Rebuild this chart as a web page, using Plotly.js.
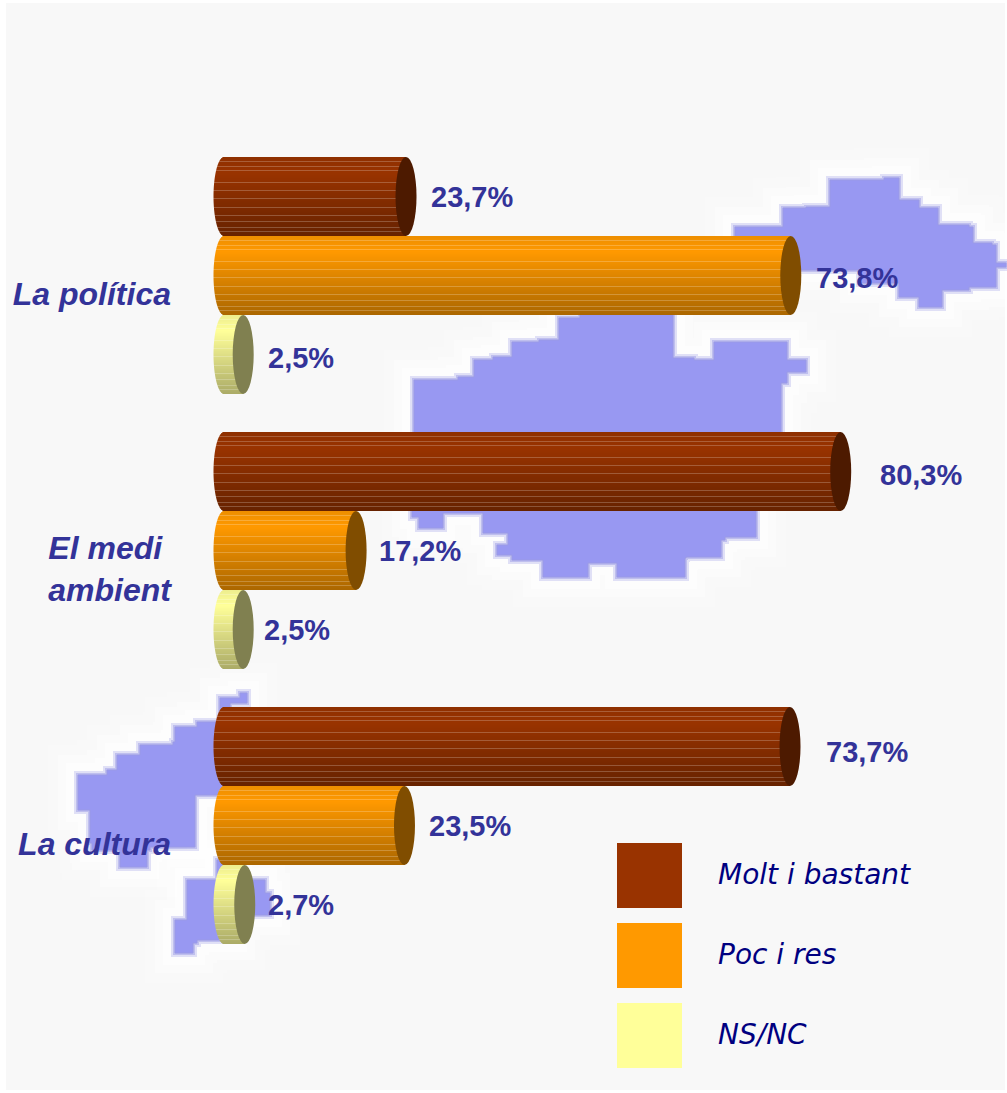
<!DOCTYPE html>
<html><head><meta charset="utf-8">
<script src="https://cdn.plot.ly/plotly-3.0.1.min.js"></script>
<style>html,body{margin:0;padding:0;background:#fff}</style></head>
<body><div id="chart" style="width:1007px;height:1093px"></div>
<script>
// ---- data
const categories = ['La política', 'El medi&nbsp;<br>ambient', 'La cultura'];
const seriesNames = ['Molt i bastant', 'Poc i res', 'NS/NC'];
const moltBastant = [23.7, 80.3, 73.7];
const pocRes = [73.8, 17.2, 23.5];
const nsNc = [2.5, 2.5, 2.7];

// ---- styles
const W = 1007, H = 1093, L = 172;
const faceColors = [[153,51,0],[255,153,0],[255,255,153]];
const capColors = ['#4d1a00','#804d00','#808050'];
const legendColors = ['#993300','#ff9900','#ffff99'];
const labelColor = '#333399', legendText = '#000080';
const labelNudgeX = [[23,37,34],[23,21,23],[23,19,21]];   // px, per series then category
const labelNudgeY = [[0,3,5],[2,0,0],[3,0,0]];
const stripeRows = [4,9,13,25,33,41,50,58,64,70,74];
const values = [moltBastant, pocRes, nsNc];
const pxPerUnit = 7.68, zeroPx = 224, capRx = 10.5/pxPerUnit;
const catPx = 275, barStep = 79/275, strips = 79, originPx = 275.5;

const px = x => (x - L) / (W - L);
const py = y => 1 - y / H;
function poly(pts){
  const out = [];
  pts.forEach((p, i) => {
    const q = pts[(i + 1) % pts.length];
    out.push(p, [q[0], p[1]]);           // stair-stepped edge, as in the pixelated map
  });
  return 'M' + out.map(p => px(p[0]) + ',' + py(p[1])).join('L') + 'Z';
}

const blobs = [
 [[735,227],[766,227],[783,208],[806,207],[830,180],[884,178],[899,200],[919,208],[938,225],[969,227],[973,243],[992,245],[996,263],[1006,267],[996,287],[969,290],[942,307],[919,297],[899,283],[860,270],[787,240],[735,240]],
 [[671,300],[673,358],[694,360],[714,342],[764,342],[787,360],[806,372],[787,383],[781,403],[781,440],[756,500],[756,537],[725,540],[721,557],[686,558],[685,577],[640,577],[617,563],[590,563],[588,577],[559,577],[543,560],[512,555],[497,545],[508,533],[483,513],[458,513],[443,528],[419,517],[412,505],[414,380],[458,377],[474,360],[493,357],[512,342],[539,340],[559,318],[580,300]],
 [[240,693],[247,703],[230,717],[230,795],[195,802],[195,847],[150,850],[147,867],[130,867],[120,850],[92,843],[90,810],[78,807],[78,775],[107,770],[117,755],[140,745],[173,742],[175,727],[197,722],[220,698]],
 [[217,860],[240,880],[265,893],[270,915],[240,920],[235,940],[197,943],[193,953],[175,950],[175,920],[187,913],[187,880]]
];

// ---- shapes
const shapes = [{type:'rect',xref:'paper',yref:'paper',x0:px(6),x1:px(1005),y0:py(1090),y1:py(3),
  fillcolor:'#f8f8f8',line:{width:0},layer:'below'}];
[[60,0.25],[40,0.45],[24,0.7]].forEach(h => blobs.forEach(b => shapes.push({type:'path',xref:'paper',yref:'paper',path:poly(b),
  fillcolor:'#ffffff',opacity:h[1],line:{color:'#ffffff',width:h[0]},layer:'below'})));
[[8,0.3],[4,0.5]].forEach(h => blobs.forEach(b => shapes.push({type:'path',xref:'paper',yref:'paper',path:poly(b),
  fillcolor:'rgba(0,0,0,0)',opacity:h[1],line:{color:'#a0a0e8',width:h[0]},layer:'below'})));
blobs.forEach(b => shapes.push({type:'path',xref:'paper',yref:'paper',path:poly(b),
  fillcolor:'#9898f2',line:{color:'#9a9ae6',width:1},layer:'below'}));

// ---- traces
const traces = [];
values.forEach((vals, s) => {
  const xs = [], ys = [], bases = [], cols = [];
  vals.forEach((v, c) => {
    const yc = c + (s - 1) * barStep;
    for (let i = 0; i < strips; i++) {
      const t = (i + 0.5) / strips;
      const u = 2 * t - 1;
      const b = -capRx * Math.sqrt(Math.max(0, 1 - u * u));
      let f = t < 0.2 ? 0.93 + 0.07 * t / 0.2 : 1 - (t - 0.2) / 0.8 * 0.33;
      let rgb = faceColors[s].map(k => k * f);
      if (stripeRows.includes(i)) rgb = rgb.map(k => k + (255 - k) * 0.22);
      xs.push(v - b); bases.push(b); ys.push(yc + (t - 0.5) * barStep);
      cols.push('rgb(' + rgb.map(Math.round).join(',') + ')');
    }
    shapes.push({type:'circle',xref:'x',yref:'y',x0:v-capRx,x1:v+capRx,
      y0:yc-barStep/2,y1:yc+barStep/2,fillcolor:capColors[s],line:{width:0}});
  });
  traces.push({type:'bar',orientation:'h',name:seriesNames[s],x:xs,y:ys,base:bases,
    width:0.96*barStep/strips,marker:{color:cols,opacity:1,line:{width:0}},opacity:1,hoverinfo:'skip',showlegend:false});
});

// ---- annotations
const annotations = [];
values.forEach((vals, s) => vals.forEach((v, c) => annotations.push({
  xref:'x',yref:'y',x:v,y:c+(s-1)*barStep,xanchor:'left',yanchor:'middle',showarrow:false,
  xshift:labelNudgeX[s][c],yshift:-labelNudgeY[s][c],text:v.toFixed(1).replace('.',',')+'%',
  font:{family:'"Liberation Sans",Arial,sans-serif',size:29,color:labelColor,weight:'bold'}
})));
seriesNames.forEach((n, s) => {
  const top = 843 + 80 * s;
  shapes.push({type:'rect',xref:'paper',yref:'paper',x0:px(617),x1:px(682),y0:py(top+65),y1:py(top),
    fillcolor:legendColors[s],line:{width:0}});
  annotations.push({xref:'paper',yref:'paper',x:px(716),y:py(top+31),xanchor:'left',yanchor:'middle',showarrow:false,
    text:n,font:{family:'"DejaVu Sans",sans-serif',size:28,color:legendText,style:'italic'}});
});

const layout = {
  width:W,height:H,margin:{l:L,r:0,t:0,b:0},paper_bgcolor:'#ffffff',plot_bgcolor:'rgba(0,0,0,0)',
  barmode:'overlay',showlegend:false,hovermode:false,
  xaxis:{range:[-(zeroPx-L)/pxPerUnit,(W-zeroPx)/pxPerUnit],visible:false,fixedrange:true},
  yaxis:{range:[(H-originPx)/catPx,-originPx/catPx],tickmode:'array',tickvals:categories.map((_, i) => i + 0.066),
    ticktext:categories,showgrid:false,zeroline:false,showline:false,ticks:'',ticklen:0,fixedrange:true,
    tickfont:{family:'"Liberation Sans",Arial,sans-serif',size:32,color:labelColor,weight:'bold',style:'italic'}},
  shapes,annotations
};
Plotly.newPlot('chart',traces,layout,{displayModeBar:false});
</script></body></html>
